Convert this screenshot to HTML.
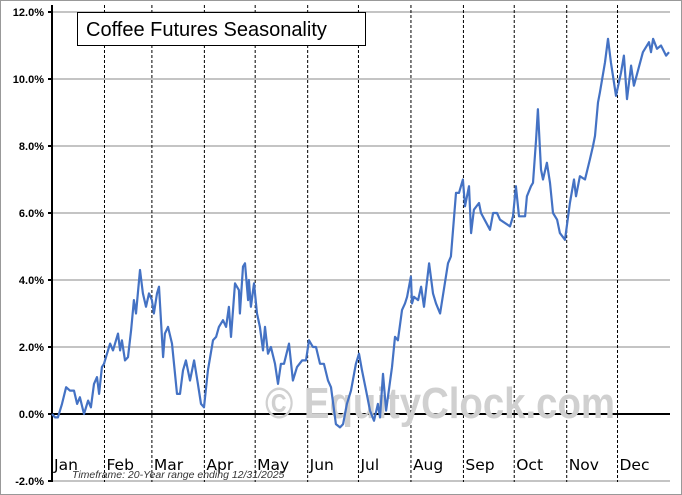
<!DOCTYPE html>
<html><head><meta charset="utf-8"><style>
body{margin:0;background:#fff;font-family:"Liberation Sans",sans-serif}
svg{display:block}
</style></head><body>
<svg id="chart" width="682" height="495" xmlns="http://www.w3.org/2000/svg">
<rect x="0.5" y="0.5" width="681" height="494" fill="#fff" stroke="#999"/>
<g id="grid"></g>
<text x="265" y="418" font-size="44" font-weight="bold" fill="#d0d0d0" textLength="350" lengthAdjust="spacingAndGlyphs" font-family="'Liberation Sans',sans-serif">© EquityClock.com</text>
<g id="marks"></g>
<rect x="77.5" y="12.5" width="288" height="33" fill="#fff" stroke="#000"/>
<text x="86" y="36" font-size="20" fill="#000">Coffee Futures Seasonality</text>
<text x="72" y="478" font-size="10.5" font-style="italic" fill="#333">Timeframe: 20-Year range ending 12/31/2025</text>
</svg>
<script>
const yTicks=[12,10,8,6,4,2,0,-2];
const months=["Jan","Feb","Mar","Apr","May","Jun","Jul","Aug","Sep","Oct","Nov","Dec"];
const monthStarts=[0,31,59,90,120,151,181,212,243,273,304,334];
const days=[0,1.8,3.5,5.9,8.3,10.6,13,14.8,16.5,18.9,21.3,23,24.8,26.6,27.8,29.5,30.7,32.5,34.3,36,39,40.2,41.3,43.1,44.9,46.7,48.4,49.6,52,53.7,55.5,57.3,59,60.2,62,63.2,65.6,66.7,68.5,70.9,73.8,75.6,77.4,79.1,81.5,83.9,86.2,88,89.8,92.1,95.1,96.9,98.6,101,102.8,104.5,105.7,108.1,110.4,111,112.8,114,115.8,116.3,117.5,119.3,121.1,122.8,124.6,125.8,127.6,129.3,131.7,133.5,135.2,137,140,142.3,144.7,147.7,150,151.8,154.1,155.9,158.3,160.6,163,164.8,167.7,170.1,171.9,174.2,176.6,179.5,181.3,183.1,185.5,187.8,190.2,192.5,193.7,195.5,197.3,200.8,202.6,204.3,206.7,208.5,209.7,212,212.6,213.8,216.2,218,219.7,222.7,225,226.8,229.2,233.9,235.6,238.6,240.4,242.7,243.9,246.3,247.5,249.2,252.2,253.4,258.7,260.5,262.8,264.6,270.5,272.3,274,275.8,279.4,280.5,282.9,284.1,285.9,287,288.8,290,292.3,294.1,295.9,298.3,300,303,305.9,308.3,309.5,311.8,314.8,317.7,319.5,320.7,322.5,323.6,326.6,328.4,330.1,333.1,336.1,337.8,339.6,342,343.7,349,352.6,353.8,355,357.3,359.7,362.7,364.4];
const values=[0,-0.1,-0.1,0.3,0.8,0.7,0.7,0.3,0.5,0,0.4,0.2,0.9,1.1,0.6,1.4,1.5,1.8,2.1,1.9,2.4,1.9,2.2,1.6,1.7,2.5,3.4,3.0,4.3,3.6,3.2,3.6,3.4,3.0,3.6,3.8,1.7,2.4,2.6,2.1,0.6,0.6,1.3,1.6,1.0,1.6,0.9,0.3,0.2,1.3,2.2,2.3,2.6,2.8,2.6,3.2,2.3,3.9,3.7,3.0,4.4,4.5,3.4,4.0,3.2,3.9,3.0,2.6,1.9,2.6,1.8,2.0,1.5,0.9,1.5,1.5,2.1,1.0,1.4,1.6,1.6,2.2,2.0,2.0,1.5,1.5,1.0,0.8,-0.3,-0.4,-0.3,0.3,0.7,1.5,1.8,1.3,0.7,0.1,-0.2,0.3,-0.1,1.2,0.1,1.4,2.3,2.2,3.1,3.3,3.5,4.1,3.3,3.5,3.4,3.8,3.2,4.5,3.6,3.3,3.0,4.5,4.7,6.6,6.6,7.0,6.2,6.8,5.4,6.1,6.3,6.0,5.5,6.0,6.0,5.8,5.6,5.9,6.8,5.9,5.9,6.5,6.8,6.9,8.2,9.1,7.3,7.0,7.5,6.9,6.0,5.8,5.4,5.2,6.3,7.0,6.5,7.1,7.0,7.6,8.0,8.3,9.3,9.6,10.5,11.2,10.5,9.5,10.2,10.7,9.4,10.4,9.8,10.8,11.1,10.8,11.2,10.9,11.0,10.7,10.8];
const NS="http://www.w3.org/2000/svg";
const X0=52,X1=670,Y0=414,PX=33.5;
const xs=d=>X0+d*(X1-X0)/365;
const ys=v=>Y0-v*PX;
function mk(tag,at,parent){const e=document.createElementNS(NS,tag);for(const k in at)e.setAttribute(k,at[k]);parent.appendChild(e);return e;}
const grid=document.getElementById('grid'),marks=document.getElementById('marks');
yTicks.forEach(t=>{
  if(t!==0){const l=mk('line',{x1:X0,x2:X1,y1:ys(t),y2:ys(t),stroke:'#888','stroke-width':1},grid);
  
  }
  const tx=mk('text',{x:44,y:ys(t)+4,'font-size':11,'font-weight':'bold','text-anchor':'end',fill:'#000'},grid);
  tx.textContent=t.toFixed(1)+'%';
  
  
  const tk=mk('line',{x1:X0-4,x2:X0,y1:ys(t),y2:ys(t),stroke:'#000','stroke-width':2},grid);
  
  
});
monthStarts.forEach((d,i)=>{
  if(i>0){const l=mk('line',{x1:xs(d),x2:xs(d),y1:5,y2:482,stroke:'#000','stroke-width':1,'stroke-dasharray':'3,2'},grid);
  
  }
  const tx=mk('text',{x:xs(d)+2,y:470,'font-size':15.5,fill:'#000','font-family':"'DejaVu Sans',sans-serif"},grid);
  tx.textContent=months[i];
  
  
});
const ax=mk('line',{x1:X0,x2:X0,y1:5,y2:482,stroke:'#000','stroke-width':2},grid);


const zl=mk('line',{x1:X0,x2:X1,y1:Y0,y2:Y0,stroke:'#000','stroke-width':2},grid);


const d=days.map((v,i)=>(i?'L':'M')+xs(v).toFixed(1)+','+ys(values[i]).toFixed(1)).join('');
const p=mk('path',{d:d,fill:'none',stroke:'#4472c4','stroke-width':2.2,'stroke-linejoin':'round'},marks);


</script>
</body></html>
